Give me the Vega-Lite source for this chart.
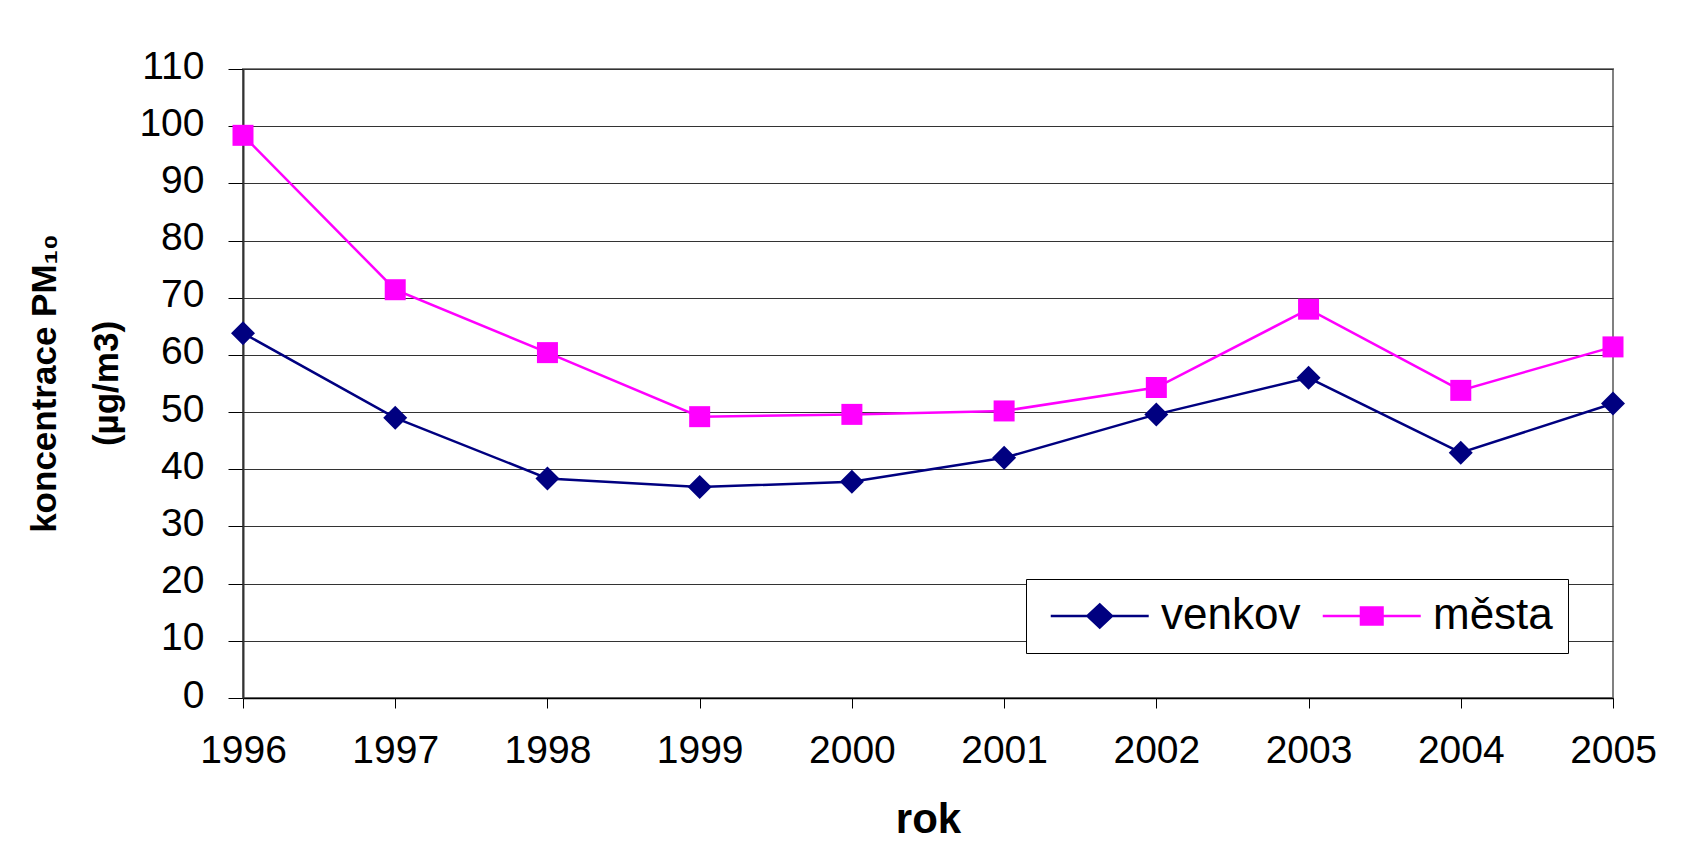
{
  "$schema": "https://vega.github.io/schema/vega-lite/v6.json",
  "width": 1370,
  "height": 629,
  "autosize": {"type": "none"},
  "padding": {"left": 243, "top": 69, "right": 93, "bottom": 168},
  "background": "white",
  "data": {
    "values": [
      {"year": "1996", "series": "venkov", "value": 63.8},
      {"year": "1997", "series": "venkov", "value": 49.0},
      {"year": "1998", "series": "venkov", "value": 38.4},
      {"year": "1999", "series": "venkov", "value": 36.9},
      {"year": "2000", "series": "venkov", "value": 37.8},
      {"year": "2001", "series": "venkov", "value": 42.0},
      {"year": "2002", "series": "venkov", "value": 49.6},
      {"year": "2003", "series": "venkov", "value": 56.0},
      {"year": "2004", "series": "venkov", "value": 42.9},
      {"year": "2005", "series": "venkov", "value": 51.5},
      {"year": "1996", "series": "města", "value": 98.4},
      {"year": "1997", "series": "města", "value": 71.4},
      {"year": "1998", "series": "města", "value": 60.4},
      {"year": "1999", "series": "města", "value": 49.2},
      {"year": "2000", "series": "města", "value": 49.6},
      {"year": "2001", "series": "města", "value": 50.2},
      {"year": "2002", "series": "města", "value": 54.3},
      {"year": "2003", "series": "města", "value": 68.0},
      {"year": "2004", "series": "města", "value": 53.8},
      {"year": "2005", "series": "města", "value": 61.4}
    ]
  },
  "encoding": {
    "x": {
      "field": "year",
      "type": "ordinal",
      "scale": {"type": "point", "padding": 0},
      "axis": {
        "title": "rok",
        "labelAngle": 0,
        "labelFont": "Liberation Sans",
        "labelFontSize": 39,
        "labelColor": "black",
        "labelPadding": 23,
        "tickSize": 10,
        "tickColor": "black",
        "domainColor": "black",
        "domainWidth": 1.5,
        "grid": false,
        "titleFont": "Liberation Sans",
        "titleFontSize": 42,
        "titleFontWeight": "bold",
        "titleColor": "black",
        "titleBaseline": "alphabetic",
        "titleX": 685,
        "titleY": 134
      }
    },
    "y": {
      "field": "value",
      "type": "quantitative",
      "scale": {"domain": [0, 110], "nice": false},
      "axis": {
        "title": ["koncentrace PM₁₀", "(µg/m3)"],
        "values": [0, 10, 20, 30, 40, 50, 60, 70, 80, 90, 100, 110],
        "labelFont": "Liberation Sans",
        "labelFontSize": 39,
        "labelColor": "black",
        "labelPadding": 24,
        "labelOffset": -3,
        "tickSize": 15,
        "tickColor": "black",
        "domainColor": "#333333",
        "domainWidth": 2,
        "grid": true,
        "gridColor": "#333333",
        "gridWidth": 1,
        "titleFont": "Liberation Sans",
        "titleFontSize": 35,
        "titleFontWeight": "bold",
        "titleColor": "black",
        "titleAngle": -90,
        "titleAlign": "center",
        "titleBaseline": "alphabetic",
        "titleLineHeight": 62,
        "titleX": -188,
        "titleY": 314
      }
    },
    "color": {
      "field": "series",
      "type": "nominal",
      "scale": {"domain": ["venkov", "města"], "range": ["#000080", "#FF00FF"]},
      "legend": {
        "title": null,
        "orient": "bottom-right",
        "offset": 45,
        "direction": "horizontal",
        "padding": 15,
        "strokeColor": "black",
        "fillColor": "white",
        "labelFont": "Liberation Sans",
        "labelFontSize": 44,
        "labelColor": "black",
        "labelOffset": 76,
        "columnPadding": 12,
        "symbolSize": 600,
        "symbolStrokeWidth": 2.5
      }
    }
  },
  "layer": [
    {
      "mark": {"type": "line", "strokeWidth": 2.5},
      "encoding": {}
    },
    {
      "transform": [{"filter": "false"}],
      "mark": {"type": "point", "filled": true, "opacity": 1},
      "encoding": {
        "shape": {
          "field": "series",
          "type": "nominal",
          "scale": {
            "domain": ["venkov", "města"],
            "range": ["M-1,0H2M4,0H7M2,0L3,-0.95L4,0L3,0.95Z", "M-1,0H2.12M3.88,0H7M2.12,-0.7H3.88V0.7H2.12Z"]
          }
        }
      }
    },
    {
      "transform": [{"filter": "datum.series === 'venkov'"}],
      "mark": {"type": "point", "filled": true, "opacity": 1, "shape": "diamond", "size": 576},
      "encoding": {}
    },
    {
      "transform": [{"filter": "datum.series === 'města'"}],
      "mark": {"type": "point", "filled": true, "opacity": 1, "shape": "square", "size": 441},
      "encoding": {}
    }
  ],
  "config": {
    "view": {"stroke": "#808080", "strokeWidth": 2},
    "font": "Liberation Sans"
  }
}
